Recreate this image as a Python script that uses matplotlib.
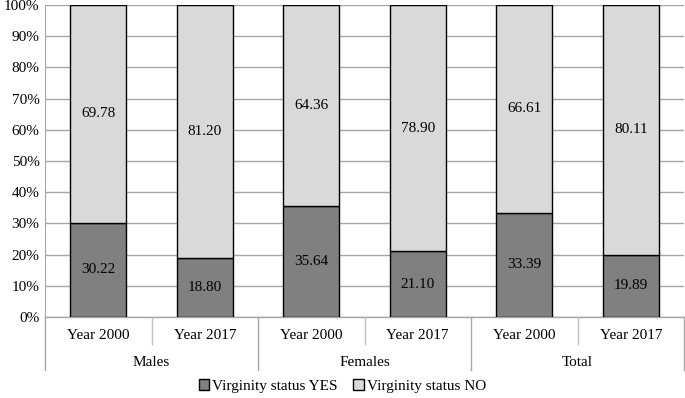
import matplotlib.pyplot as plt
from matplotlib.transforms import blended_transform_factory

plt.rcParams['font.family'] = ['Liberation Serif', 'DejaVu Serif']

groups = ['Males', 'Females', 'Total']
years = ['Year 2000', 'Year 2017'] * 3
yes_vals = [30.22, 18.80, 35.64, 21.10, 33.39, 19.89]
no_vals = [69.78, 81.20, 64.36, 78.90, 66.61, 80.11]

fig = plt.figure(figsize=(6.85, 3.98), dpi=100)
ax = fig.add_axes([45/685, 1-317/398, 639/685, 312/398])

x = list(range(len(yes_vals)))
w = 0.53
ax.bar(x, yes_vals, w, color='#808080', edgecolor='black', linewidth=1,
       label='Virginity status YES', zorder=3)
ax.bar(x, no_vals, w, bottom=yes_vals, color='#d9d9d9', edgecolor='black',
       linewidth=1, label='Virginity status NO', zorder=3)

for i in x:
    ax.text(i, yes_vals[i] / 2, f'{yes_vals[i]:.2f}', ha='center', va='center',
            fontsize=11, zorder=4)
    ax.text(i, yes_vals[i] + no_vals[i] / 2, f'{no_vals[i]:.2f}', ha='center',
            va='center', fontsize=11, zorder=4)

ax.set_xlim(-0.5, 5.5)
ax.set_ylim(0, 100)
ax.set_yticks(range(0, 101, 10))
ax.set_yticklabels([f'{v}%' for v in range(0, 101, 10)], fontsize=11)
ax.yaxis.grid(True, color='#a6a6a6', linewidth=1, zorder=0)
ax.tick_params(axis='y', length=0, pad=4)
ax.set_xticks([])
for s in ['top', 'right', 'bottom']:
    ax.spines[s].set_visible(False)
ax.spines['left'].set_color('#a6a6a6')
ax.axhline(0, color='#a6a6a6', linewidth=1, zorder=2, clip_on=False)

# category separators below the axis
trans = blended_transform_factory(ax.transData, ax.transAxes)
for xs in [0.5, 2.5, 4.5]:
    ax.plot([xs, xs], [0, -0.085], color='#bfbfbf', lw=1, transform=trans, clip_on=False)
for xs in [-0.5, 1.5, 3.5, 5.5]:
    ax.plot([xs, xs], [0, -0.17], color='#a6a6a6', lw=1, transform=trans, clip_on=False)

for i, yl in enumerate(years):
    ax.text(i, -0.058, yl, ha='center', va='center', fontsize=11, transform=trans)
for g, name in enumerate(groups):
    ax.text(2 * g + 0.5, -0.145, name, ha='center', va='center', fontsize=11,
            transform=trans)

fig.legend(loc='center', bbox_to_anchor=(0.5, 1-386/398), ncol=2, frameon=False,
           fontsize=11, handlelength=0.7, handleheight=0.7, handletextpad=0.2,
           columnspacing=1.0)

fig.savefig('out.png', dpi=100)
